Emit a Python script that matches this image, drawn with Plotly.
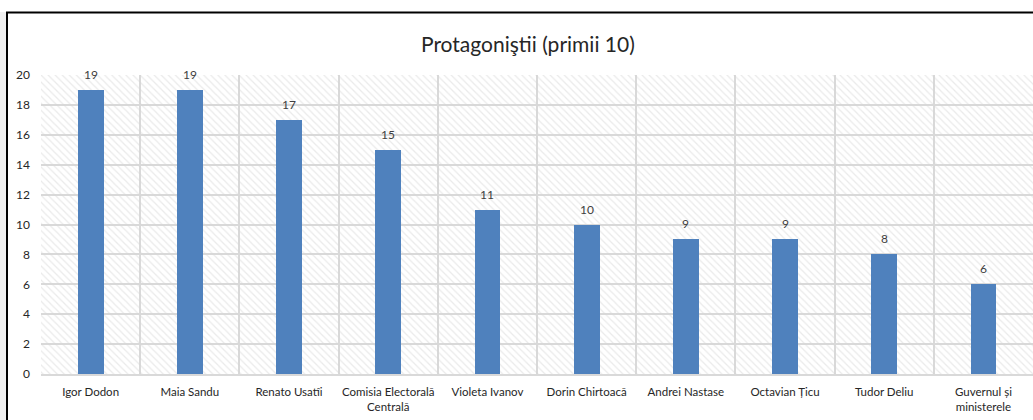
import plotly.graph_objects as go

categories = ["Igor Dodon", "Maia Sandu", "Renato Usatîi", "Comisia Electorală<br>Centrală",
              "Violeta Ivanov", "Dorin Chirtoacă", "Andrei Nastase", "Octavian Țicu",
              "Tudor Deliu", "Guvernul și<br>ministerele"]
values = [19, 19, 17, 15, 11, 10, 9, 9, 8, 6]
y_ticks = [0, 2, 4, 6, 8, 10, 12, 14, 16, 18, 20]
title_text = "Protagoniştii (primii 10)"

W, H = 1033, 420
L, R, T, B = 41, 0, 75, 46
pw = W - L - R
ph = H - T - B
ymax = y_ticks[-1]

def px_x(p):
    return (p - L) / pw

def px_y(p):
    return (H - B - p) / ph

font = "Lato, Carlito, Calibri, sans-serif"

fig = go.Figure()
# hatched plot-area background
fig.add_trace(go.Bar(
    x=categories, y=[ymax] * len(categories), width=1,
    marker=dict(color="rgba(0,0,0,0)", line=dict(width=0),
                pattern=dict(shape="\\", fgcolor="#d6d6d6", bgcolor="rgba(0,0,0,0)",
                             size=5, solidity=0.25)),
    hoverinfo="skip", showlegend=False))
fig.add_trace(go.Bar(
    x=categories, y=values, width=0.26,
    marker=dict(color="#4f81bd", line=dict(width=0)),
    showlegend=False))

for c, v in zip(categories, values):
    fig.add_annotation(x=c, y=v, text=str(v), showarrow=False, yanchor="bottom",
                       yshift=6, font=dict(family=font, size=12, color="#404040"))

fig.add_annotation(xref="paper", yref="paper", x=px_x(528), y=px_y(43), text=title_text,
                   showarrow=False, xanchor="center", yanchor="middle",
                   font=dict(family=font, size=21, color="#262626"))

# frame: gray strip on left, black border
fig.add_shape(type="rect", xref="paper", yref="paper", x0=px_x(0), x1=px_x(6),
              y0=px_y(H), y1=px_y(12), fillcolor="#f0f0f0", line=dict(width=0), layer="below")
fig.add_shape(type="line", xref="paper", yref="paper", x0=px_x(7), x1=px_x(7),
              y0=px_y(H), y1=px_y(12), line=dict(color="#000000", width=2))
fig.add_shape(type="line", xref="paper", yref="paper", x0=px_x(6), x1=px_x(W),
              y0=px_y(12.5), y1=px_y(12.5), line=dict(color="#000000", width=2))

fig.update_layout(
    width=W, height=H, margin=dict(l=L, r=R, t=T, b=B, pad=0, autoexpand=False),
    paper_bgcolor="#ffffff", plot_bgcolor="#ffffff",
    barmode="overlay", bargap=0, showlegend=False,
    font=dict(family=font, size=12, color="#404040"),
)
fig.update_xaxes(type="category", tickson="boundaries", showgrid=True, gridcolor="#d9d9d9",
                 gridwidth=1.5, ticks="", showline=True, linecolor="#d9d9d9", linewidth=1.5,
                 tickangle=0, automargin=False,
                 tickfont=dict(family=font, size=11.5, color="#262626"), ticklabelstandoff=6,
                 fixedrange=True)
fig.update_yaxes(range=[0, ymax], tickvals=y_ticks, showgrid=True, gridcolor="#d9d9d9",
                 gridwidth=1.5, zeroline=False, showline=False, ticks="", automargin=False,
                 ticklabelstandoff=10, tickfont=dict(family=font, size=12, color="#262626"),
                 fixedrange=True)

fig.write_html("out.html", config={"displayModeBar": False},
               post_script="document.body.style.margin='0';document.body.style.overflow='hidden';")
